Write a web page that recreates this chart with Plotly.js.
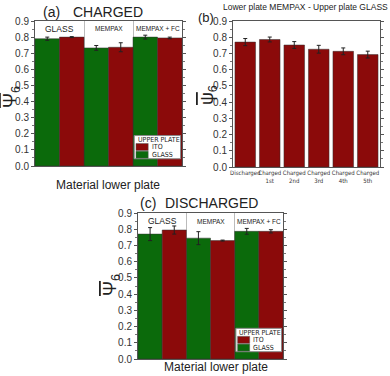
<!DOCTYPE html>
<html><head><meta charset="utf-8">
<script src="https://cdn.plot.ly/plotly-3.0.1.min.js"></script>
<style>html,body{margin:0;padding:0;background:#fff}#chart{width:390px;height:376px}</style>
</head><body><div id="chart"></div>
<script>
// ---- data ----
const lowerPlates = ["GLASS", "MEMPAX", "MEMPAX + FC"];
const upperPlates = ["ITO", "GLASS"];
// (a) charged
const chargedGlassUpper = [0.79, 0.733, 0.80];
const chargedGlassUpperErr = [0.010, 0.015, 0.012];
const chargedItoUpper = [0.80, 0.737, 0.795];
const chargedItoUpperErr = [0.003, 0.028, 0.005];
// (b) lower MEMPAX / upper GLASS
const cycles = ["Discharged", "Charged<br>1st", "Charged<br>2nd", "Charged<br>3rd", "Charged<br>4th", "Charged<br>5th"];
const cycleValues = [0.770, 0.786, 0.752, 0.726, 0.713, 0.693];
const cycleErr = [0.022, 0.015, 0.021, 0.024, 0.021, 0.021];
// (c) discharged
const dischargedGlassUpper = [0.77, 0.745, 0.787];
const dischargedGlassUpperErr = [0.040, 0.040, 0.018];
const dischargedItoUpper = [0.795, 0.730, 0.787];
const dischargedItoUpperErr = [0.025, 0.003, 0.010];
const yTicks = [0, 0.1, 0.2, 0.3, 0.4, 0.5, 0.6, 0.7, 0.8, 0.9];

const GREEN = "#0b6a0b", RED = "#8b0a0a";
const FONT = "Liberation Sans, Arial, sans-serif";
const NARROW = "Liberation Sans Narrow, Arial Narrow, DejaVu Sans Condensed, sans-serif";
const err = a => ({type: "data", array: a, visible: true, color: "#222", thickness: 1, width: 2});
const mk = (y, e, name, color, xa, ya) => ({
  type: "bar", x: lowerPlates, y: y, name: name, error_y: err(e),
  marker: {color: color, line: {color: "#333", width: 0.5}},
  xaxis: xa, yaxis: ya, showlegend: false
});

const traces = [
  mk(chargedGlassUpper, chargedGlassUpperErr, "GLASS", GREEN, "x", "y"),
  mk(chargedItoUpper, chargedItoUpperErr, "ITO", RED, "x", "y"),
  {type: "bar", x: cycles, y: cycleValues, error_y: err(cycleErr), width: 0.84,
   marker: {color: RED, line: {color: "#333", width: 0.5}}, xaxis: "x2", yaxis: "y2", showlegend: false},
  mk(dischargedGlassUpper, dischargedGlassUpperErr, "GLASS", GREEN, "x3", "y3"),
  mk(dischargedItoUpper, dischargedItoUpperErr, "ITO", RED, "x3", "y3")
];

const yax = (dom) => ({
  domain: dom, range: [0, 0.9], tickvals: yTicks, tickformat: ".1f",
  showline: true, mirror: "ticks", linecolor: "#555", linewidth: 1,
  ticks: "outside", ticklen: 3, tickcolor: "#555", showgrid: false, zeroline: false,
  minor: {dtick: 0.05, ticks: "outside", ticklen: 2, tickcolor: "#777"},
  tickfont: {size: 10, color: "#333", family: FONT}, fixedrange: true
});
const xcat = (dom, anchor) => ({
  domain: dom, anchor: anchor, type: "category", tickson: "boundaries",
  showgrid: true, gridcolor: "#bbb", gridwidth: 1, showticklabels: false, ticks: "",
  showline: true, mirror: true, linecolor: "#555", linewidth: 1, zeroline: false, fixedrange: true
});

const ann = (text, x, y, size, opts) => Object.assign({
  text: text, x: x, y: y, xref: "paper", yref: "paper", showarrow: false,
  font: {size: size, color: "#222", family: FONT}, xanchor: "center", yanchor: "middle"
}, opts || {});

const psiCap = "<span style='text-decoration:overline'>Ψ</span><sub>6</sub>";
const psiLow = "<span style='text-decoration:overline'>ψ</span><sub>6</sub>";

const annotations = [
  ann("(a)", 51 / 390, 1 - 12 / 376, 14),
  ann("CHARGED", 108 / 390, 1 - 12 / 376, 14),
  ann("Material lower plate", 108 / 390, 1 - 185 / 376, 12),
  ann(psiCap, 11 / 390, 1 - 97 / 376, 18, {textangle: -90}),
  ann("(b)", 206 / 390, 1 - 17 / 376, 13),
  ann("Lower plate MEMPAX - Upper plate GLASS", 305 / 390, 1 - 7 / 376, 8.5),
  ann(psiLow, 209 / 390, 1 - 95 / 376, 18, {textangle: -90}),
  ann("(c)", 148 / 390, 1 - 203 / 376, 14),
  ann("DISCHARGED", 211 / 390, 1 - 203 / 376, 14),
  ann("Material lower plate", 216 / 390, 1 - 367 / 376, 12),
  ann(psiCap, 111 / 390, 1 - 285 / 376, 18, {textangle: -90})
];
lowerPlates.forEach((c, i) => {
  const sz = i === 0 ? 8.5 : 6.5;
  annotations.push(ann(c, c, 0.945, sz, {xref: "x", yref: "y domain"}));
  annotations.push(ann(c, c, 0.945, sz, {xref: "x3", yref: "y3 domain"}));
});

// custom compact legend (UPPER PLATE: ITO, GLASS) in each of panels (a) and (c)
const shapes = [];
const legendColors = [RED, GREEN];
const legFont = {size: 7, color: "#222", family: NARROW};
[["x", "y"], ["x3", "y3"]].forEach(([xa, ya]) => {
  const xr = xa + " domain", yr = ya + " domain";
  shapes.push({type: "rect", xref: xr, yref: yr, x0: 0.675, x1: 0.99, y0: 0.05, y1: 0.21,
               fillcolor: "#fff", line: {color: "#888", width: 1}});
  annotations.push(ann("UPPER PLATE", 0.685, 0.181, 7, {xref: xr, yref: yr, xanchor: "left", font: legFont}));
  upperPlates.forEach((u, k) => {
    const yc = 0.131 - k * 0.053;
    shapes.push({type: "rect", xref: xr, yref: yr, x0: 0.687, x1: 0.77, y0: yc - 0.024, y1: yc + 0.024,
                 fillcolor: legendColors[k], line: {color: "#555", width: 0.5}});
    annotations.push(ann(u, 0.78, yc, 7, {xref: xr, yref: yr, xanchor: "left", font: legFont}));
  });
});

const layout = {
  width: 390, height: 376, margin: {l: 0, r: 0, t: 0, b: 0},
  paper_bgcolor: "#fff", plot_bgcolor: "#fff",
  barmode: "group", bargap: 0, bargroupgap: 0,
  font: {family: FONT}, showlegend: false,
  xaxis: xcat([35 / 390, 182 / 390], "y"),
  yaxis: Object.assign(yax([1 - 166 / 376, 1 - 21 / 376]), {anchor: "x"}),
  xaxis2: {domain: [233 / 390, 380 / 390], anchor: "y2", type: "category",
           showline: true, mirror: true, linecolor: "#555", ticks: "", showgrid: false,
           tickfont: {size: 6, color: "#333", family: NARROW}, tickangle: 0, fixedrange: true},
  yaxis2: Object.assign(yax([1 - 167 / 376, 1 - 21 / 376]), {anchor: "x2"}),
  xaxis3: xcat([138 / 390, 283 / 390], "y3"),
  yaxis3: Object.assign(yax([1 - 359 / 376, 1 - 213 / 376]), {anchor: "x3"}),
  annotations: annotations,
  shapes: shapes
};

Plotly.newPlot("chart", traces, layout, {displayModeBar: false, staticPlot: true});
</script></body></html>
